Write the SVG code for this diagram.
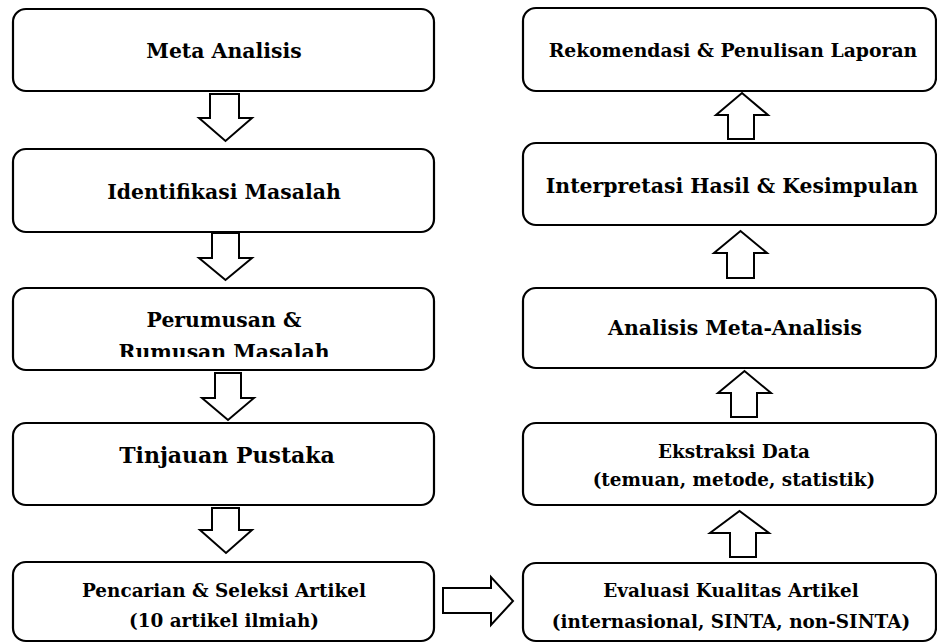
<svg xmlns="http://www.w3.org/2000/svg" width="937" height="643" viewBox="0 0 937 643">
<style>
.box{fill:#fff;stroke:#000;stroke-width:2.2}
.arr{fill:#fff;stroke:#000;stroke-width:2;stroke-linejoin:miter}
text{font-family:"DejaVu Serif","Liberation Serif",serif;font-weight:bold;fill:#000;text-anchor:middle}
.t1{font-size:20.4px}
.t0{font-size:18.8px}
.t2{font-size:22px}
.t3{font-size:18.4px}
</style>
<defs>
<clipPath id="clipRum"><rect x="0" y="330" width="470" height="27"/></clipPath>
</defs>
<rect width="937" height="643" fill="#fff"/>
<g id="connectors">
<polygon class="arr" points="210,94 239,94 239,118 252,118 225.5,141 199,118 210,118"/>
<polygon class="arr" points="212,233 239,233 239,258 252,258 225.5,280 199,258 212,258"/>
<polygon class="arr" points="215,373 241,373 241,398 254,398 228,420 202,398 215,398"/>
<polygon class="arr" points="212,508 239,508 239,530 252,530 226,553 200,530 212,530"/>
<polygon class="arr" points="443,588 491,588 491,577 513,601 491,625 491,613 443,613"/>
<polygon class="arr" points="730,557 756,557 756,533 769,533 739.5,511 710,533 730,533"/>
<polygon class="arr" points="731,417 757,417 757,393 771,393 744.5,371 718,393 731,393"/>
<polygon class="arr" points="727,278 754,278 754,253 767,253 740.5,231 714,253 727,253"/>
<polygon class="arr" points="728,139 754,139 754,115 768,115 742,93 716,115 728,115"/>
</g>
<g id="n-meta">
<rect class="box" x="13" y="9" width="421" height="82" rx="13"/>
<text class="t1" x="224" y="58">Meta Analisis</text>
</g>
<g id="n-identifikasi">
<rect class="box" x="13" y="149" width="421" height="83" rx="13"/>
<text class="t1" x="224" y="199">Identifikasi Masalah</text>
</g>
<g id="n-perumusan">
<rect class="box" x="13" y="288" width="421" height="82" rx="13"/>
<text class="t1" x="224" y="327">Perumusan &amp;</text>
<text class="t1" x="224" y="358.5" clip-path="url(#clipRum)">Rumusan Masalah</text>
</g>
<g id="n-tinjauan">
<rect class="box" x="13" y="423" width="421" height="82" rx="13"/>
<text class="t2" x="227" y="463">Tinjauan Pustaka</text>
</g>
<g id="n-pencarian">
<rect class="box" x="13" y="562" width="421" height="79" rx="13"/>
<text class="t3" x="224" y="597">Pencarian &amp; Seleksi Artikel</text>
<text class="t3" x="224" y="627">(10 artikel ilmiah)</text>
</g>
<g id="n-rekomendasi">
<rect class="box" x="523" y="8" width="413" height="83" rx="13"/>
<text class="t0" x="733" y="57">Rekomendasi &amp; Penulisan Laporan</text>
</g>
<g id="n-interpretasi">
<rect class="box" x="523" y="143" width="413" height="82" rx="13"/>
<text class="t1" x="732" y="193">Interpretasi Hasil &amp; Kesimpulan</text>
</g>
<g id="n-analisis">
<rect class="box" x="523" y="288" width="413" height="80" rx="13"/>
<text class="t1" x="735" y="335">Analisis Meta-Analisis</text>
</g>
<g id="n-ekstraksi">
<rect class="box" x="523" y="423" width="413" height="82" rx="13"/>
<text class="t3" x="734" y="458">Ekstraksi Data</text>
<text class="t3" x="734" y="486">(temuan, metode, statistik)</text>
</g>
<g id="n-evaluasi">
<rect class="box" x="523" y="563" width="413" height="78" rx="13"/>
<text class="t3" x="731" y="597">Evaluasi Kualitas Artikel</text>
<text class="t3" x="731" y="628">(internasional, SINTA, non-SINTA)</text>
</g>
</svg>
